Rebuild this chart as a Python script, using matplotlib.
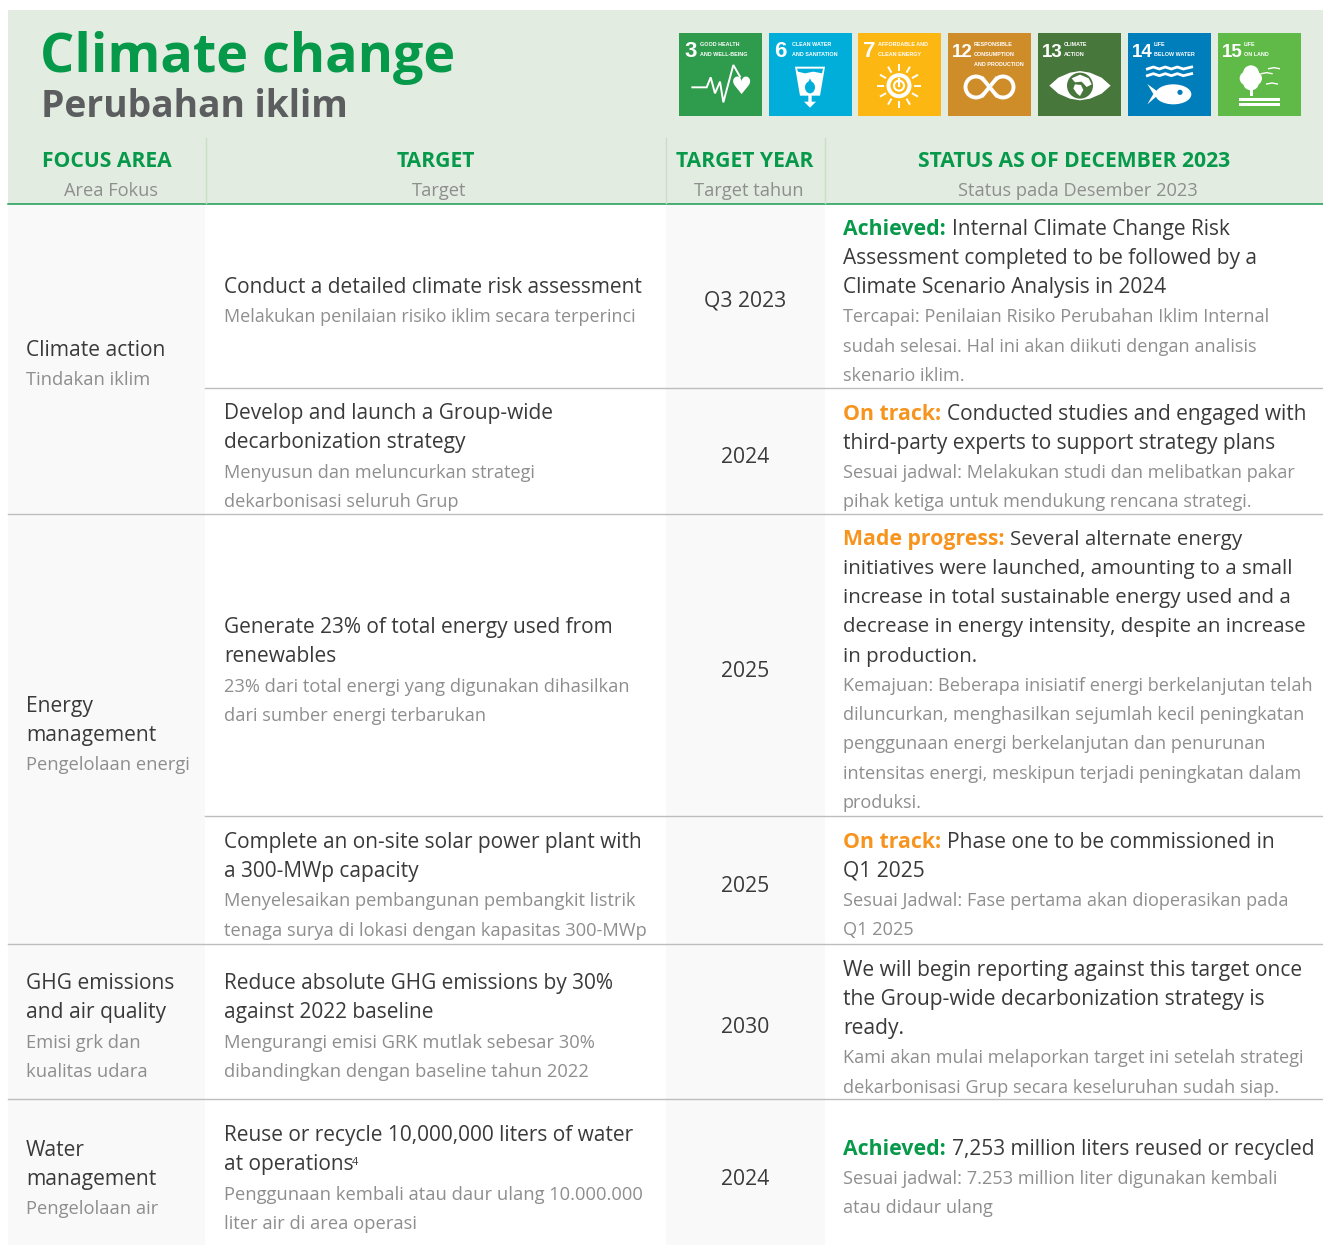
import matplotlib
matplotlib.use('Agg')
import matplotlib.pyplot as plt
from matplotlib.patches import Rectangle, Polygon, Circle, Ellipse
import numpy as np

title_en = "Climate change"
title_id = "Perubahan iklim"

header_en = ["FOCUS AREA", "TARGET", "TARGET YEAR", "STATUS AS OF DECEMBER 2023"]
header_id = ["Area Fokus", "Target", "Target tahun", "Status pada Desember 2023"]

focus_en = [["Climate action"], ["Energy", "management"],
            ["GHG emissions", "and air quality"], ["Water", "management"]]
focus_id = [["Tindakan iklim"], ["Pengelolaan energi"],
            ["Emisi grk dan", "kualitas udara"], ["Pengelolaan air"]]

target_en = [["Conduct a detailed climate risk assessment"],
             ["Develop and launch a Group-wide", "decarbonization strategy"],
             ["Generate 23% of total energy used from", "renewables"],
             ["Complete an on-site solar power plant with", "a 300-MWp capacity"],
             ["Reduce absolute GHG emissions by 30%", "against 2022 baseline"],
             ["Reuse or recycle 10,000,000 liters of water", "at operations"]]
target_id = [["Melakukan penilaian risiko iklim secara terperinci"],
             ["Menyusun dan meluncurkan strategi", "dekarbonisasi seluruh Grup"],
             ["23% dari total energi yang digunakan dihasilkan", "dari sumber energi terbarukan"],
             ["Menyelesaikan pembangunan pembangkit listrik", "tenaga surya di lokasi dengan kapasitas 300-MWp"],
             ["Mengurangi emisi GRK mutlak sebesar 30%", "dibandingkan dengan baseline tahun 2022"],
             ["Penggunaan kembali atau daur ulang 10.000.000", "liter air di area operasi"]]

years = ["Q3 2023", "2024", "2025", "2025", "2030", "2024"]

status_tag = ["Achieved:", "On track:", "Made progress:", "On track:", "", "Achieved:"]
status_en = [["Internal Climate Change Risk", "Assessment completed to be followed by a", "Climate Scenario Analysis in 2024"],
             ["Conducted studies and engaged with", "third-party experts to support strategy plans"],
             ["Several alternate energy", "initiatives were launched, amounting to a small",
              "increase in total sustainable energy used and a",
              "decrease in energy intensity, despite an increase", "in production."],
             ["Phase one to be commissioned in", "Q1 2025"],
             ["We will begin reporting against this target once", "the Group-wide decarbonization strategy is", "ready."],
             ["7,253 million liters reused or recycled"]]
status_id = [["Tercapai: Penilaian Risiko Perubahan Iklim Internal", "sudah selesai. Hal ini akan diikuti dengan analisis", "skenario iklim."],
             ["Sesuai jadwal: Melakukan studi dan melibatkan pakar", "pihak ketiga untuk mendukung rencana strategi."],
             ["Kemajuan: Beberapa inisiatif energi berkelanjutan telah", "diluncurkan, menghasilkan sejumlah kecil peningkatan",
              "penggunaan energi berkelanjutan dan penurunan", "intensitas energi, meskipun terjadi peningkatan dalam", "produksi."],
             ["Sesuai Jadwal: Fase pertama akan dioperasikan pada", "Q1 2025"],
             ["Kami akan mulai melaporkan target ini setelah strategi", "dekarbonisasi Grup secara keseluruhan sudah siap."],
             ["Sesuai jadwal: 7.253 million liter digunakan kembali", "atau didaur ulang"]]

sdg_num = ["3", "6", "7", "12", "13", "14", "15"]
sdg_label = [["GOOD HEALTH", "AND WELL-BEING"], ["CLEAN WATER", "AND SANITATION"],
             ["AFFORDABLE AND", "CLEAN ENERGY"], ["RESPONSIBLE", "CONSUMPTION", "AND PRODUCTION"],
             ["CLIMATE", "ACTION"], ["LIFE", "BELOW WATER"], ["LIFE", "ON LAND"]]
sdg_color = ["#2f9b4c", "#00aed9", "#fdb713", "#cf8d2a", "#48773c", "#007dbb", "#5fba47"]

# layout, in pixels of the picture
focus_y = [356, 712, 989, 1156]
target_y = [293, 419, 633, 848, 989, 1141]
year_y = [307, 463, 677, 892, 1033, 1185]
status_y = [234.6, 419.6, 544.6, 847.6, 975.6, 1154.6]
status_size = [15.0, 15.0, 14.72, 15.08, 15.12, 15.0]
target_sub = [13.0, 13.1, 13.17, 13.17, 13.2, 13.27]
label_dx = [21, 23, 20, 26, 26, 26, 26]
pitch = 29.25
tile_x = [679, 769, 858, 948, 1038, 1128, 1218]

plt.rcParams['font.family'] = ['Open Sans', 'DejaVu Sans']
GREEN = '#07994a'
DARK = '#3a3a3a'
GREY = '#8e8e8e'
ORANGE = '#f7941d'
SUB = 13.05

fig = plt.figure(figsize=(13.23, 12.45), dpi=100)
ax = fig.add_axes([0, 0, 1, 1])
ax.set_xlim(0, 1323)
ax.set_ylim(1245, 0)
ax.axis('off')

# backgrounds
ax.add_patch(Rectangle((8, 10), 1315, 194, color='#e2ece0', lw=0))
ax.add_patch(Rectangle((8, 205), 197, 1040, color='#f9f9f9', lw=0))
ax.add_patch(Rectangle((666, 205), 159, 1040, color='#f9f9f9', lw=0))
ax.plot([8, 1323], [203.5, 203.5], color='#1a9a55', lw=1.1)
for vx in [205.5, 666, 825]:
    ax.plot([vx, vx], [138, 203], color='#c9dfc5', lw=1)
for hy, x0 in [(388, 205), (514, 8), (816, 205), (944, 8), (1099, 8)]:
    ax.plot([x0, 1323], [hy, hy], color='#bdbdbd', lw=1)

# title and header
ax.text(40, 72, title_en, fontsize=38.8, fontweight='bold', color=GREEN)
ax.text(41, 117, title_id, fontsize=26.8, fontweight='bold', color='#5b5d5f')
head_x = [107, 436, 745, 1074]
head_x2 = [111, 439.5, 749, 1078]
for h, s, x, x2 in zip(header_en, header_id, head_x, head_x2):
    ax.text(x, 167, h, fontsize=15.2, fontweight='bold', color=GREEN, ha='center')
    ax.text(x2, 196, s, fontsize=13.15, color=GREY, ha='center')


def lines(x, y0, en, idn, size=15.0, sub=SUB):
    y = y0
    for t in en:
        ax.text(x, y, t, fontsize=size, color=DARK)
        y += pitch
    for t in idn:
        ax.text(x, y, t, fontsize=sub, color=GREY)
        y += pitch


for en, idn, y in zip(focus_en, focus_id, focus_y):
    lines(26, y, en, idn, 15.1, 13.2)
for en, idn, y, s in zip(target_en, target_id, target_y, target_sub):
    lines(224, y, en, idn, 15.05, s)
ax.text(352, 1165, "4", fontsize=8, color=DARK)
for yr, y in zip(years, year_y):
    ax.text(745, y, yr, fontsize=15.2, color=DARK, ha='center')

fig.canvas.draw()
rend = fig.canvas.get_renderer()
for tag, en, idn, y, s in zip(status_tag, status_en, status_id, status_y, status_size):
    first = 843
    if tag:
        col = GREEN if tag == "Achieved:" else ORANGE
        t = ax.text(843, y, tag, fontsize=15.35, fontweight='bold', color=col)
        first = t.get_window_extent(rend).x1 + 6
    ax.text(first, y, en[0], fontsize=s, color=DARK)
    lines(843, y + pitch, en[1:], idn, s)


# SDG tiles: sketch coordinates come from a 3x crop of the tile row
def zx(x, ox=670):
    return x / 3 + ox


def zy(y):
    return y / 3 + 25


def zp(pts, ox=670):
    return [(zx(a, ox), zy(b)) for a, b in pts]


for x, col, num, lab, dx in zip(tile_x, sdg_color, sdg_num, sdg_label, label_dx):
    ax.add_patch(Rectangle((x, 33), 83, 83, color=col, lw=0))
    two = len(num) > 1
    ax.text(x + (4 if two else 5), 57, num, fontsize=13.5 if two else 16, fontweight='bold', color='white',
            family='Liberation Sans')
    for i, l in enumerate(lab):
        ax.text(x + dx, 46 + i * 9.8, l, fontsize=3.9, color='white', fontweight='bold',
                family='Liberation Sans')

W = 'white'
# 3 heartbeat
beat = zp([(67, 187), (110, 187), (122, 157), (135, 205), (150, 170), (160, 232), (190, 120), (210, 155)])
ax.plot(*zip(*beat), color=W, lw=1.4, solid_joinstyle='miter')
ax.text(zx(213), zy(186), '♥', fontsize=17, color=W, ha='center', va='center', family='DejaVu Sans')

# 6 glass and drop
ax.add_patch(Polygon(zp([(375, 125), (465, 125), (450, 212), (425, 212), (425, 230), (438, 230), (420, 248),
                         (402, 230), (415, 230), (415, 212), (390, 212)]), color=W, lw=0))
ax.add_patch(Polygon(zp([(381, 131), (459, 131), (456, 145), (430, 140), (405, 145), (384, 140)]), color='#00aed9', lw=0))
ax.add_patch(Ellipse((zx(420), zy(187)), 10, 12, color='#00aed9', lw=0))
ax.add_patch(Polygon(zp([(420, 160), (431, 185), (409, 185)]), color='#00aed9', lw=0))

# 7 sun
sun = (zx(687), zy(182))
ax.add_patch(Circle(sun, 12.5, color=W, lw=0))
ax.add_patch(Circle(sun, 8.5, color='#fdb713', lw=0))
ax.add_patch(Circle(sun, 5, fill=False, ec=W, lw=1.5))
ax.plot([sun[0], sun[0]], [sun[1] - 7, sun[1]], color=W, lw=1.6)
for a in np.deg2rad(np.arange(0, 360, 30)):
    ax.plot([sun[0] + 16 * np.cos(a), sun[0] + 21 * np.cos(a)],
            [sun[1] + 16 * np.sin(a), sun[1] + 21 * np.sin(a)], color=W, lw=1.4)

# 12 loop
ax.add_patch(Circle((976, 87), 10.5, fill=False, ec=W, lw=2.8))
ax.add_patch(Circle((1003, 87), 10.5, fill=False, ec=W, lw=2.8))
ax.add_patch(Rectangle((983, 77), 13, 20, color='#cf8d2a', lw=0))
ax.plot([983, 996], [79, 95], color=W, lw=2.8)
ax.plot([983, 996], [95, 79], color=W, lw=2.8)

# 13 eye and globe
ox = 990
ex = np.array([178, 205, 240, 270, 300, 335, 362, 335, 300, 270, 240, 205])
ey = np.array([182, 158, 143, 138, 143, 158, 182, 206, 221, 226, 221, 206])
ax.add_patch(Polygon(zp(list(zip(ex, ey)), ox), color=W, lw=0))
ax.add_patch(Circle((zx(270, ox), zy(182)), 13, color='#48773c', lw=0))
ax.add_patch(Polygon(zp([(245, 160), (270, 149), (296, 160), (305, 178), (290, 186), (275, 170), (255, 172)], ox),
                     color=W, lw=0))
ax.add_patch(Polygon(zp([(255, 178), (273, 180), (280, 195), (270, 213), (260, 205), (250, 190)], ox), color=W, lw=0))

# 14 waves and fish
wx = np.array([472, 490, 508, 526, 544, 562, 580, 605])
for base in [132, 152]:
    wy = base + np.array([0, -6, 0, -6, 0, -6, 0, -6])
    ax.plot(zx(wx, ox), zy(wy), color=W, lw=2)
ax.add_patch(Ellipse((zx(550, ox), zy(208)), 36, 20, color=W, lw=0))
ax.add_patch(Polygon(zp([(472, 177), (510, 205), (472, 238), (490, 207)], ox), color=W, lw=0))
ax.add_patch(Circle((zx(570, ox), zy(202)), 2.6, color='#007dbb', lw=0))

# 15 tree and birds
for cx, cy, r in [(783, 145, 8), (770, 160, 7), (795, 160, 7), (783, 172, 8)]:
    ax.add_patch(Circle((zx(cx, ox), zy(cy)), r, color=W, lw=0))
ax.add_patch(Rectangle((zx(780, ox), zy(192)), 3, 7, color=W, lw=0))
ax.add_patch(Rectangle((zx(747, ox), zy(220)), 41, 3, color=W, lw=0))
ax.add_patch(Rectangle((zx(747, ox), zy(235)), 41, 3, color=W, lw=0))
for bx, by in [(830, 143), (852, 128), (846, 174)]:
    ax.plot([zx(bx - 16, ox), zx(bx, ox), zx(bx + 16, ox)], [zy(by + 3), zy(by), zy(by + 3)], color=W, lw=1)

fig.savefig('out.png', dpi=100)
